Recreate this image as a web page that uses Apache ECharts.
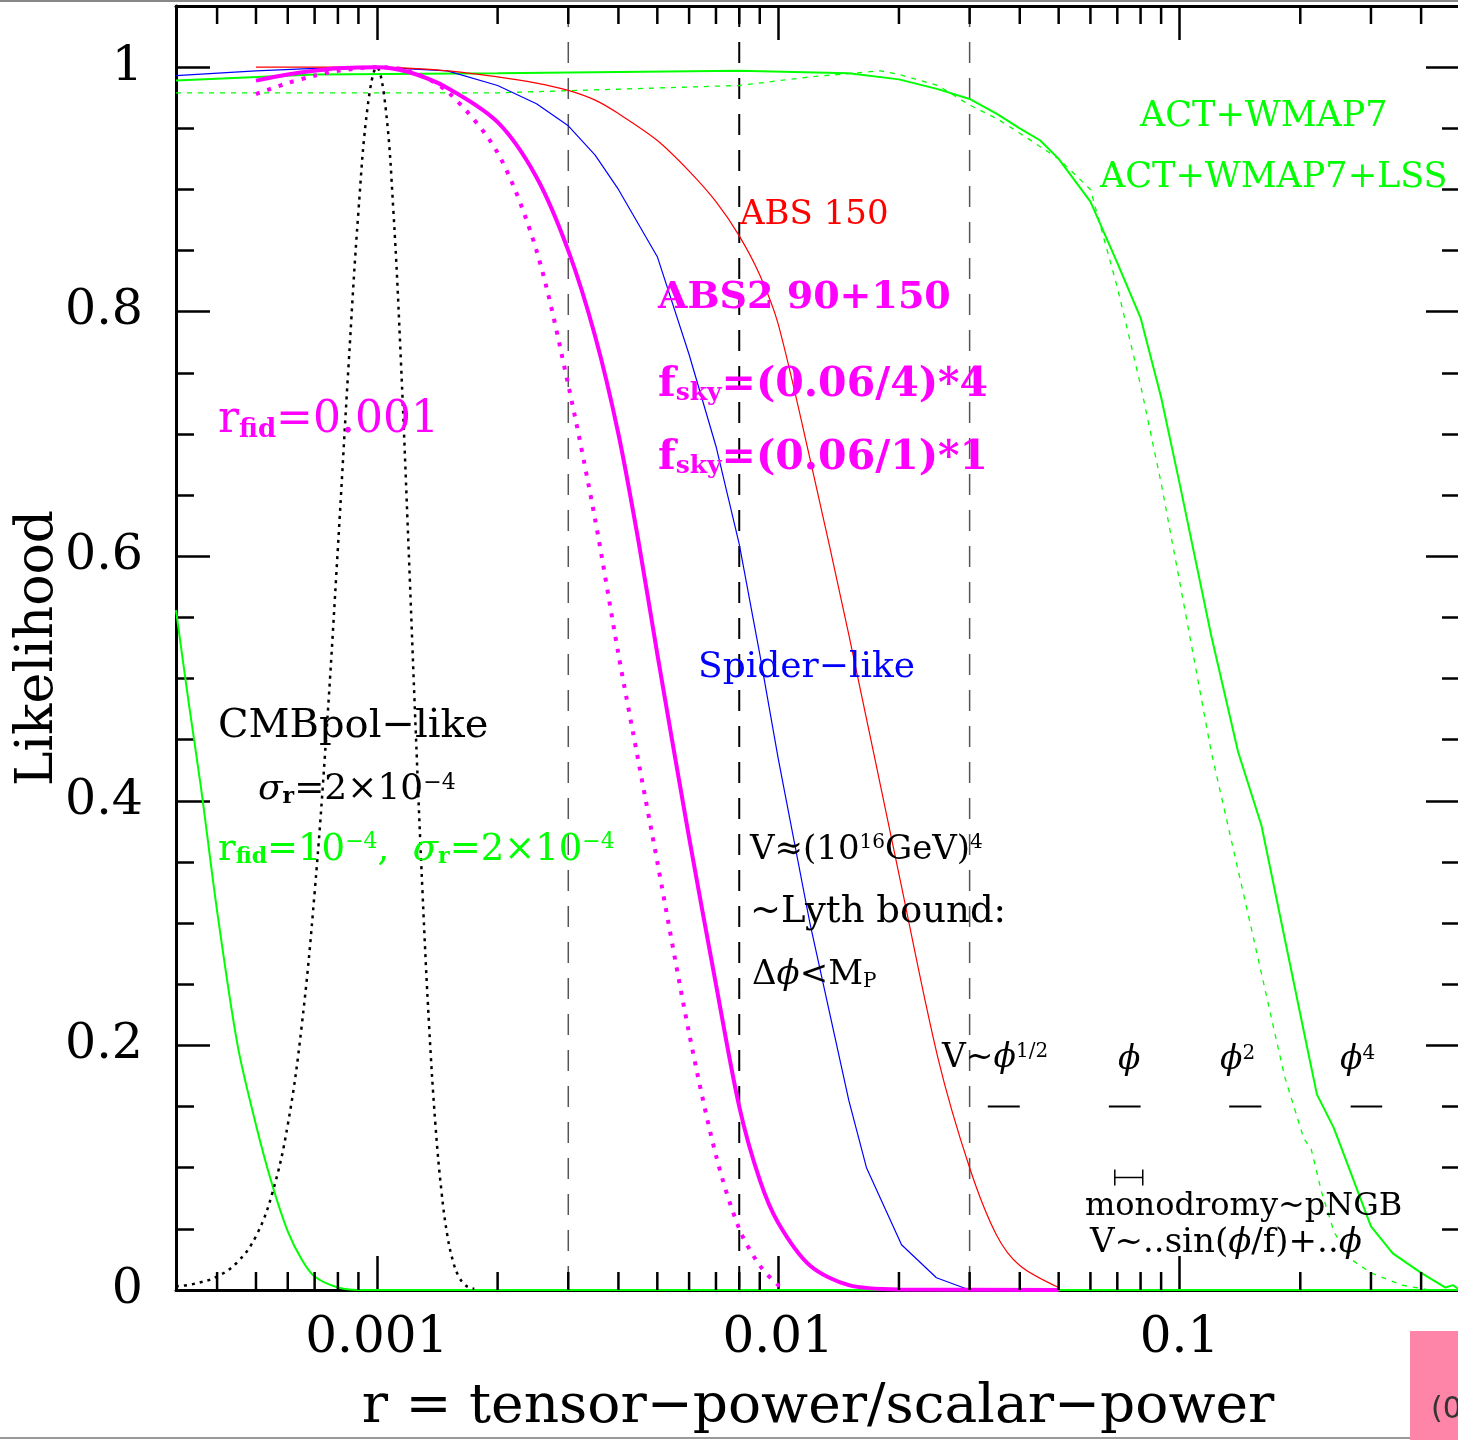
<!DOCTYPE html>
<html>
<head>
<meta charset="utf-8">
<script src="https://cdn.jsdelivr.net/npm/echarts@6/dist/echarts.min.js"></script>
<style>
html, body { margin: 0; padding: 0; background: #fff; }
#cc { width: 1458px; height: 1440px; }
</style>
</head>
<body>
<div id="cc"></div>
<script>
var FONT = 'DejaVu Serif';
var GREEN = '#00ff00', RED = '#ff0000', BLUE = '#0000ff', MAG = '#ff00ff';

// axis range and tick labels
var xMin = 0.000316, xMax = 0.5;
var xTickVals = [0.001, 0.01, 0.1];
var xTickText = ['0.001', '0.01', '0.1'];
var yTickVals = [0, 0.2, 0.4, 0.6, 0.8, 1];
var yTickText = ['0', '0.2', '0.4', '0.6', '0.8', '1'];
var xMinorTicks = [0.0004, 0.0005, 0.0006, 0.0007, 0.0008, 0.0009,
  0.002, 0.003, 0.004, 0.005, 0.006, 0.007, 0.008, 0.009,
  0.02, 0.03, 0.04, 0.05, 0.06, 0.07, 0.08, 0.09,
  0.2, 0.3, 0.4];

// CMBpol-like, r_fid = 0.001 (black dotted)
var gaussR = [0.000316, 0.00035, 0.0004, 0.00045, 0.0005, 0.00055, 0.0006, 0.00065, 0.0007, 0.00075, 0.0008, 0.00085, 0.0009, 0.00095, 0.001,
  0.00105, 0.0011, 0.00115, 0.0012, 0.00125, 0.0013, 0.00135, 0.0014, 0.00145, 0.0015, 0.00155, 0.0016, 0.00165, 0.0017, 0.00175];
var gaussL = [0.003, 0.005, 0.011, 0.023, 0.044, 0.08, 0.135, 0.216, 0.325, 0.458, 0.607, 0.755, 0.882, 0.969, 1.0,
  0.969, 0.882, 0.755, 0.607, 0.458, 0.325, 0.216, 0.135, 0.08, 0.044, 0.023, 0.011, 0.005, 0.002, 0.001];

// CMBpol-like, r_fid = 1e-4 (green, left)
var fidR = [0.000316, 0.00034, 0.000365, 0.0004, 0.00045, 0.0005, 0.00055, 0.0006, 0.00065, 0.0007, 0.0008, 0.0009, 0.5];
var fidL = [0.556, 0.48, 0.41, 0.31, 0.20, 0.135, 0.085, 0.048, 0.025, 0.011, 0.002, 0.0, 0.0];

// ACT+WMAP7 (green solid)
var actR = [0.000316, 0.0007, 0.002, 0.008, 0.015, 0.02, 0.025, 0.03, 0.035, 0.04, 0.045, 0.05, 0.06, 0.07, 0.08, 0.09, 0.1, 0.12,
  0.14, 0.16, 0.206, 0.22, 0.242, 0.254, 0.3, 0.34, 0.4, 0.46, 0.48, 0.5];
var actL = [0.989, 0.994, 0.995, 0.997, 0.995, 0.99, 0.982, 0.974, 0.962, 0.95, 0.94, 0.925, 0.89, 0.84, 0.795, 0.73, 0.66, 0.535,
  0.44, 0.38, 0.205, 0.16, 0.133, 0.115, 0.052, 0.03, 0.014, 0.002, 0.004, 0.0];

// ACT+WMAP7+LSS (green dotted)
var lssR = [0.000316, 0.002, 0.008, 0.012, 0.018, 0.02, 0.025, 0.03, 0.035, 0.04, 0.05, 0.06, 0.07, 0.08, 0.09, 0.1, 0.12, 0.15,
  0.172, 0.183, 0.204, 0.213, 0.226, 0.243, 0.268, 0.3, 0.358, 0.42];
var lssL = [0.979, 0.979, 0.985, 0.992, 0.997, 0.994, 0.985, 0.969, 0.958, 0.946, 0.925, 0.90, 0.82, 0.74, 0.66, 0.58, 0.44, 0.30,
  0.213, 0.174, 0.124, 0.115, 0.08, 0.047, 0.025, 0.014, 0.004, 0.0];

// Spider-like (blue)
var spiderR = [0.000316, 0.0005, 0.0007, 0.001, 0.0015, 0.002, 0.0025, 0.003, 0.0035, 0.004, 0.005, 0.006, 0.007, 0.008, 0.009, 0.01,
  0.012, 0.015, 0.0166, 0.0203, 0.0248, 0.03];
var spiderL = [0.993, 0.997, 0.999, 1.0, 0.997, 0.985, 0.970, 0.952, 0.928, 0.90, 0.845, 0.765, 0.69, 0.61, 0.52, 0.435,
  0.30, 0.155, 0.10, 0.037, 0.01, 0.0];

// ABS 150 (red)
var absR = [0.0005, 0.001, 0.0015, 0.002, 0.0025, 0.003, 0.0035, 0.004, 0.005, 0.006, 0.007, 0.008, 0.009, 0.01, 0.012, 0.015,
  0.02, 0.025, 0.03, 0.035, 0.04, 0.05];
var absL = [1.0, 1.0, 0.997, 0.992, 0.987, 0.981, 0.973, 0.962, 0.94, 0.915, 0.89, 0.862, 0.83, 0.79, 0.68, 0.536,
  0.34, 0.19, 0.10, 0.045, 0.02, 0.002];

// ABS2 90+150, fsky=(0.06/4)*4 (magenta solid)
var abs2R = [0.0005, 0.0006, 0.0007, 0.0008, 0.001, 0.0012, 0.0015, 0.002, 0.0025, 0.003, 0.0035, 0.004, 0.0045, 0.005, 0.006, 0.007,
  0.008, 0.009, 0.01, 0.012, 0.015, 0.02, 0.05];
var abs2L = [0.989, 0.994, 0.997, 0.999, 1.0, 0.996, 0.983, 0.955, 0.91, 0.85, 0.78, 0.70, 0.61, 0.52, 0.37, 0.25,
  0.15, 0.09, 0.055, 0.02, 0.004, 0.0005, 0.0];

// ABS2 90+150, fsky=(0.06/1)*1 (magenta dotted)
var abs2dR = [0.0005, 0.0006, 0.0007, 0.0008, 0.001, 0.0012, 0.0015, 0.002, 0.0025, 0.003, 0.0035, 0.004, 0.0045, 0.005, 0.006, 0.007,
  0.008, 0.009, 0.01, 0.0105];
var abs2dL = [0.978, 0.987, 0.993, 0.997, 1.0, 0.997, 0.98, 0.93, 0.85, 0.74, 0.63, 0.52, 0.43, 0.35, 0.21, 0.11,
  0.05, 0.02, 0.004, 0.0];

// inflation model ranges [r low, r high, height]
var modelBars = [[0.0333, 0.04, 0.15], [0.0667, 0.08, 0.15], [0.133, 0.16, 0.15], [0.267, 0.32, 0.15]];
var monoBar = [[0.069, 0.081, 0.092]];

// reference values of r (vertical dashed lines) and their strokes
var vLines = [0.003, 0.008, 0.03];
var vLineColor = ['#555', '#000', '#555'];
var vLineWidth = [1.5, 2, 1.5];

function zip(xs, ys) {
  return xs.map(function (x, i) { return [x, ys[i]]; });
}

function pickLabel(vals, texts, v, isLog) {
  for (var i = 0; i < vals.length; i++) {
    var a = isLog ? Math.log10(v) : v;
    var b = isLog ? Math.log10(vals[i]) : vals[i];
    if (Math.abs(a - b) < 1e-6) return texts[i];
  }
  return '';
}

function curve(name, data, color, width, type, smooth) {
  return {
    name: name, type: 'line', data: data, symbol: 'none', smooth: smooth || false,
    lineStyle: { color: color, width: width, type: type || 'solid', cap: 'butt' },
    silent: true, z: 3
  };
}

function note(x, y, text, color, size, bold) {
  var w = bold ? 'bold' : 'normal';
  var small = Math.round(size * 0.6);
  var off = Math.round(size * 0.42);
  var up = Math.round(size * 0.2);
  return {
    type: 'text', x: x, y: y, silent: true, z: 100,
    style: {
      text: text, align: 'left', verticalAlign: 'middle', fill: color,
      fontFamily: FONT, fontSize: size, fontWeight: w,
      rich: {
        n: { fill: color, fontFamily: FONT, fontSize: size, fontWeight: w, lineHeight: size },
        g: { fill: color, fontFamily: FONT, fontSize: size, fontWeight: w, fontStyle: 'italic', lineHeight: size },
        b: { fill: color, fontFamily: FONT, fontSize: small, fontWeight: 'bold', lineHeight: size - 2 * off, verticalAlign: 'bottom' },
        q: { fill: color, fontFamily: FONT, fontSize: small, lineHeight: size - 2 * off, verticalAlign: 'bottom' },
        p: { fill: color, fontFamily: FONT, fontSize: small, fontWeight: w, lineHeight: size - 2 * up, verticalAlign: 'top' }
      }
    }
  };
}

var chart = echarts.init(document.getElementById('cc'));

var xAxisBase = {
  type: 'log', logBase: 10, min: xMin, max: xMax,
  axisLine: { show: true, onZero: false, lineStyle: { color: '#000', width: 3 } },
  axisTick: { show: true, inside: true, length: 34, lineStyle: { color: '#000', width: 2.5 } },
  splitLine: { show: false }
};
var yAxisBase = {
  type: 'value', min: 0, max: 1.05, interval: 0.2,
  axisLine: { show: true, onZero: false, lineStyle: { color: '#000', width: 3 } },
  axisTick: { show: true, inside: true, length: 34, lineStyle: { color: '#000', width: 2.5 } },
  minorTick: { show: true, splitNumber: 4, length: 18, lineStyle: { color: '#000', width: 2.5 } },
  splitLine: { show: false }
};

var option = {
  animation: false,
  backgroundColor: '#fff',
  grid: { left: 176, right: -2, top: 6, bottom: 150, containLabel: false, outerBoundsMode: 'none' },
  xAxis: [
    echarts.util.merge({
      position: 'bottom',
      name: 'r = tensor\u2212power/scalar\u2212power', nameLocation: 'middle', nameGap: 90,
      nameMoveOverlap: false,
      nameTextStyle: { fontFamily: FONT, fontSize: 55, color: '#000' },
      axisLabel: {
        margin: 24, fontFamily: FONT, fontSize: 50, color: '#000',
        showMinLabel: false, showMaxLabel: false,
        formatter: function (v) { return pickLabel(xTickVals, xTickText, v, true); }
      }
    }, xAxisBase, true),
    echarts.util.merge({ position: 'top', axisLabel: { show: false } }, xAxisBase, true)
  ],
  yAxis: [
    echarts.util.merge({
      position: 'left',
      name: 'Likelihood', nameLocation: 'middle', nameGap: 112,
      nameMoveOverlap: false,
      nameTextStyle: { fontFamily: FONT, fontSize: 52, color: '#000' },
      axisLabel: {
        margin: 33, fontFamily: FONT, fontSize: 49, color: '#000',
        showMaxLabel: false,
        formatter: function (v) { return pickLabel(yTickVals, yTickText, v, false); }
      }
    }, yAxisBase, true),
    echarts.util.merge({ position: 'right', axisLabel: { show: false } }, yAxisBase, true)
  ],
  series: [
    {
      name: 'minor ticks', type: 'custom', silent: true, z: 5, clip: false,
      data: xMinorTicks.map(function (r) { return [r, 0]; }),
      renderItem: function (params, api) {
        var x = api.coord([api.value(0), 0])[0];
        var top = params.coordSys.y;
        var bot = params.coordSys.y + params.coordSys.height;
        return {
          type: 'group', children: [
            { type: 'line', shape: { x1: x, y1: bot, x2: x, y2: bot - 18 }, style: { stroke: '#000', lineWidth: 2.5 } },
            { type: 'line', shape: { x1: x, y1: top, x2: x, y2: top + 18 }, style: { stroke: '#000', lineWidth: 2.5 } }
          ]
        };
      }
    },
    {
      name: 'reference r', type: 'custom', silent: true, z: 2,
      data: vLines.map(function (r) { return [r, 0]; }),
      renderItem: function (params, api) {
        var x = api.coord([api.value(0), 0])[0];
        var top = params.coordSys.y;
        var bot = params.coordSys.y + params.coordSys.height;
        var i = params.dataIndex;
        return {
          type: 'line', shape: { x1: x, y1: top, x2: x, y2: bot },
          style: { stroke: vLineColor[i], lineWidth: vLineWidth[i], lineDash: [21, 15] }
        };
      }
    },
    curve('CMBpol r=1e-4', zip(fidR, fidL), GREEN, 2, 'solid', 0.3),
    curve('CMBpol r=0.001', zip(gaussR, gaussL), '#000', 2.5, [3, 5], 0.4),
    curve('ACT+WMAP7+LSS', zip(lssR, lssL), GREEN, 1.3, [5, 6]),
    curve('ACT+WMAP7', zip(actR, actL), GREEN, 2),
    curve('Spider-like', zip(spiderR, spiderL), BLUE, 1.2),
    curve('ABS 150', zip(absR, absL), RED, 1.2, 'solid', 0.3),
    curve('ABS2 fsky 0.06/1', zip(abs2dR, abs2dL), MAG, 4, [4, 8], 0.3),
    curve('ABS2 fsky 0.06/4', zip(abs2R, abs2L), MAG, 4, 'solid', 0.3),
    {
      name: 'models', type: 'custom', silent: true, z: 6,
      data: modelBars,
      renderItem: function (params, api) {
        var y = api.value(2);
        var a = api.coord([api.value(0), y]);
        var b = api.coord([api.value(1), y]);
        return { type: 'line', shape: { x1: a[0], y1: a[1], x2: b[0], y2: b[1] }, style: { stroke: '#000', lineWidth: 2 } };
      }
    },
    {
      name: 'monodromy', type: 'custom', silent: true, z: 6,
      data: monoBar,
      renderItem: function (params, api) {
        var y = api.value(2);
        var a = api.coord([api.value(0), y]);
        var b = api.coord([api.value(1), y]);
        var st = { stroke: '#000', lineWidth: 1.5 };
        return {
          type: 'group', children: [
            { type: 'line', shape: { x1: a[0], y1: a[1], x2: b[0], y2: b[1] }, style: st },
            { type: 'line', shape: { x1: a[0], y1: a[1] - 8, x2: a[0], y2: a[1] + 8 }, style: st },
            { type: 'line', shape: { x1: b[0], y1: b[1] - 8, x2: b[0], y2: b[1] + 8 }, style: st }
          ]
        };
      }
    }
  ],
  graphic: [
    { type: 'rect', shape: { x: 0, y: 0, width: 1458, height: 2 }, style: { fill: '#888' }, silent: true, z: 100 },
    { type: 'rect', shape: { x: 0, y: 1437, width: 1458, height: 2 }, style: { fill: '#999' }, silent: true, z: 100 },
    { type: 'rect', shape: { x: 1410, y: 1331, width: 48, height: 109 }, style: { fill: '#ff85a8' }, silent: true, z: 101 },
    { type: 'text', x: 1431, y: 1410, silent: true, z: 102,
      style: { text: '(0', fill: '#333', fontFamily: 'DejaVu Sans', fontSize: 30, align: 'left', verticalAlign: 'middle' } },
    note(1140, 117, '{n|ACT+WMAP7}', GREEN, 35),
    note(1100, 178, '{n|ACT+WMAP7+LSS}', GREEN, 35),
    note(740, 215, '{n|ABS 150}', RED, 34),
    note(658, 298, '{n|ABS2 90+150}', MAG, 38, true),
    note(658, 385, '{n|f}{b|sky}{n|=(0.06/4)*4}', MAG, 41, true),
    note(658, 458, '{n|f}{b|sky}{n|=(0.06/1)*1}', MAG, 41, true),
    note(218, 421, '{n|r}{b|fid}{n|=0.001}', MAG, 44),
    note(698, 668, '{n|Spider\u2212like}', BLUE, 36),
    note(218, 727, '{n|CMBpol\u2212like}', '#000', 40),
    note(258, 790, '{g|\u03c3}{b|r}{n|=2\u00d710}{p|\u22124}', '#000', 36),
    note(218, 850, '{n|r}{b|fid}{n|=10}{p|\u22124}{n|,  }{g|\u03c3}{b|r}{n|=2\u00d710}{p|\u22124}', GREEN, 37),
    note(750, 850, '{n|V\u2248(10}{p|16}{n|GeV)}{p|4}', '#000', 34),
    note(750, 912, '{n|~Lyth bound:}', '#000', 37),
    note(752, 975, '{n|\u0394}{g|\u03d5}{n|<M}{q|P}', '#000', 34),
    note(942, 1058, '{n|V~}{g|\u03d5}{p|1/2}', '#000', 33),
    note(1118, 1060, '{g|\u03d5}', '#000', 33),
    note(1220, 1060, '{g|\u03d5}{p|2}', '#000', 33),
    note(1340, 1060, '{g|\u03d5}{p|4}', '#000', 33),
    note(1085, 1207, '{n|monodromy~pNGB}', '#000', 32),
    note(1090, 1243, '{n|V~..sin(}{g|\u03d5}{n|/f)+..}{g|\u03d5}', '#000', 34)
  ]
};

chart.setOption(option);
</script>
</body>
</html>
